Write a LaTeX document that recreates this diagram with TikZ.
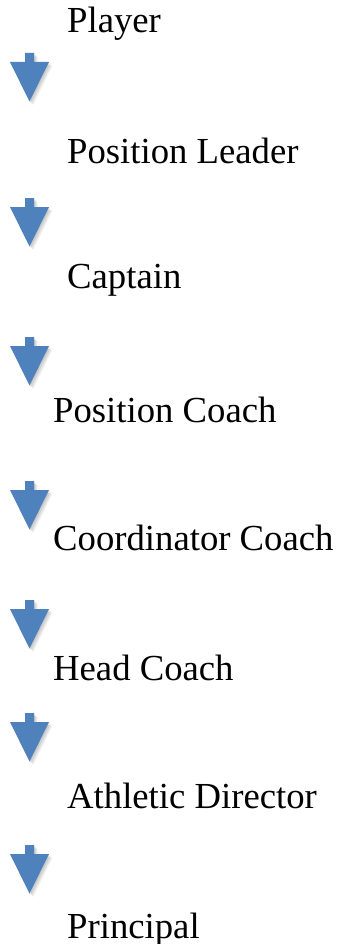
\documentclass[tikz,border=0pt]{standalone}
\usepackage{fontspec}
\setmainfont{Liberation Serif}
\usetikzlibrary{positioning}

\definecolor{chainblue}{RGB}{79,129,189}

\tikzset{
	rank/.style={anchor=base west,inner sep=0pt,font=\fontsize{36.7pt}{44pt}\selectfont},
	% block arrow pointing down, origin at top of the stem
	downarrow/.pic={
		\foreach \s in {1,...,4}
			\fill[black,opacity=0.06,xshift=0.9*\s pt,yshift=-0.9*\s pt] (-4.5,0) -- (4.5,0) -- (4.5,-9) -- (19.5,-9) -- (0,-48.5) -- (-19.5,-9) -- (-4.5,-9) -- cycle;
		\fill[chainblue] (-4.5,0) -- (4.5,0) -- (4.5,-9) -- (19.5,-9) -- (0,-48.5) -- (-19.5,-9) -- (-4.5,-9) -- cycle;
	}
}

\begin{document}
\begin{tikzpicture}[x=1pt,y=1pt]
	\useasboundingbox (0,0) rectangle (343,-944);

	\node (player) at (67,-33) [rank] {Player};
	\node (posleader) at (67,-164) [rank] {Position Leader};
	\node (captain) at (67,-288) [rank] {Captain};
	\node (poscoach) at (53,-422) [rank] {Position Coach};
	\node (coordcoach) at (53,-550) [rank] {Coordinator Coach};
	\node (headcoach) at (53,-680) [rank] {Head Coach};
	\node (ad) at (67,-808) [rank] {Athletic Director};
	\node (principal) at (67,-938) [rank] {Principal};

	%arrows
	\pic (arr1) at (29.5,-53) {downarrow};
	\pic (arr2) at (29.5,-198) {downarrow};
	\pic (arr3) at (29.5,-337) {downarrow};
	\pic (arr4) at (29.5,-481) {downarrow};
	\pic (arr5) at (29.5,-600) {downarrow};
	\pic (arr6) at (29.5,-713) {downarrow};
	\pic (arr7) at (29.5,-845) {downarrow};
\end{tikzpicture}
\end{document}
